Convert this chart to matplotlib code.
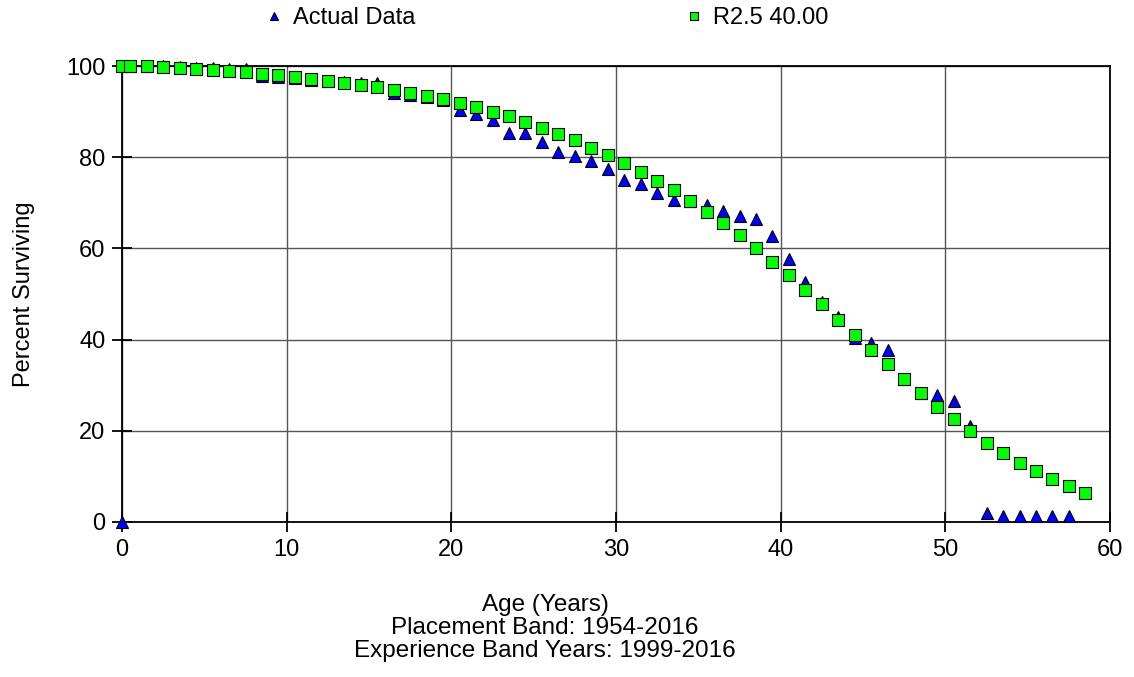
import matplotlib.pyplot as plt

plt.rcParams['font.family'] = ['Liberation Sans Narrow', 'Liberation Sans', 'DejaVu Sans']

# observed survivors, ages at mid-year
actual_age = [0, 0.5] + [i + 0.5 for i in range(1, 58)]
actual_pct = [
    0.0, 100.0, 100.0, 99.9, 99.8, 99.6, 99.5, 99.4, 99.3, 97.8,
    97.5, 97.4, 97.0, 96.8, 96.5, 96.3, 96.3, 94.0, 93.7, 93.3,
    92.6, 90.3, 89.5, 88.2, 85.4, 85.2, 83.3, 81.2, 80.3, 79.2,
    77.4, 75.0, 74.1, 72.2, 70.6, 70.4, 69.5, 68.2, 67.1, 66.4,
    62.7, 57.7, 52.6, 48.3, 45.0, 40.3, 39.2, 37.7, 31.3, 28.2,
    27.8, 26.5, 21.0, 2.0, 1.3, 1.3, 1.3, 1.3, 1.3,
]

# Iowa R2.5 curve, 40 year average life
curve_age = [0, 0.5] + [i + 0.5 for i in range(1, 59)]
curve_pct = [
    100.0, 100.0, 99.9, 99.8, 99.6, 99.4, 99.1, 98.9, 98.6, 98.3,
    98.0, 97.6, 97.2, 96.8, 96.3, 95.8, 95.3, 94.7, 94.1, 93.4,
    92.7, 91.9, 91.0, 90.0, 89.0, 87.8, 86.5, 85.1, 83.7, 82.1,
    80.4, 78.7, 76.8, 74.8, 72.7, 70.4, 68.0, 65.6, 62.9, 60.1,
    57.1, 54.1, 50.9, 47.7, 44.4, 41.1, 37.8, 34.6, 31.4, 28.3,
    25.3, 22.5, 19.9, 17.4, 15.1, 13.0, 11.1, 9.4, 7.8, 6.4,
]

x_ticks = [0, 10, 20, 30, 40, 50, 60]
y_ticks = [0, 20, 40, 60, 80, 100]

fig = plt.figure(figsize=(11.34, 6.77), dpi=100)
ax = fig.add_axes([0.1076, 0.229, 0.8713, 0.6735])

ax.plot(actual_age, actual_pct, linestyle='none', marker='^', markersize=9,
        markerfacecolor='#0000ff', markeredgecolor='black', markeredgewidth=0.8,
        clip_on=False, zorder=3, label='Actual Data')
ax.plot(curve_age, curve_pct, linestyle='none', marker='s', markersize=8,
        markerfacecolor='#00ff00', markeredgecolor='black', markeredgewidth=0.8,
        clip_on=False, zorder=4, label='R2.5 40.00')

ax.set_xlim(0, 60)
ax.set_ylim(0, 100)
ax.set_xticks(x_ticks)
ax.set_yticks(y_ticks)
ax.grid(True, color='#555555', linewidth=1)
ax.set_axisbelow(True)
for spine in ax.spines.values():
    spine.set_color('black')
    spine.set_linewidth(1.3)
ax.tick_params(direction='inout', length=14, width=1.3, labelsize=17, pad=5)

ax.set_ylabel('Percent Surviving', fontsize=17, labelpad=22)

fig.text(545 / 1134, 1 - 605 / 677, 'Age (Years)', ha='center', va='center', fontsize=17.5)
fig.text(545 / 1134, 1 - 628 / 677, 'Placement Band: 1954-2016', ha='center', va='center', fontsize=17.5)
fig.text(545 / 1134, 1 - 651 / 677, 'Experience Band Years: 1999-2016', ha='center', va='center', fontsize=17.5)

leg = fig.legend(loc='center', bbox_to_anchor=(548 / 1134, 1 - 18 / 677), ncol=2,
                 frameon=False, fontsize=17, handlelength=0.6, handletextpad=0.5,
                 columnspacing=11.5, markerscale=0.7)

fig.savefig('out.png', dpi=100)
